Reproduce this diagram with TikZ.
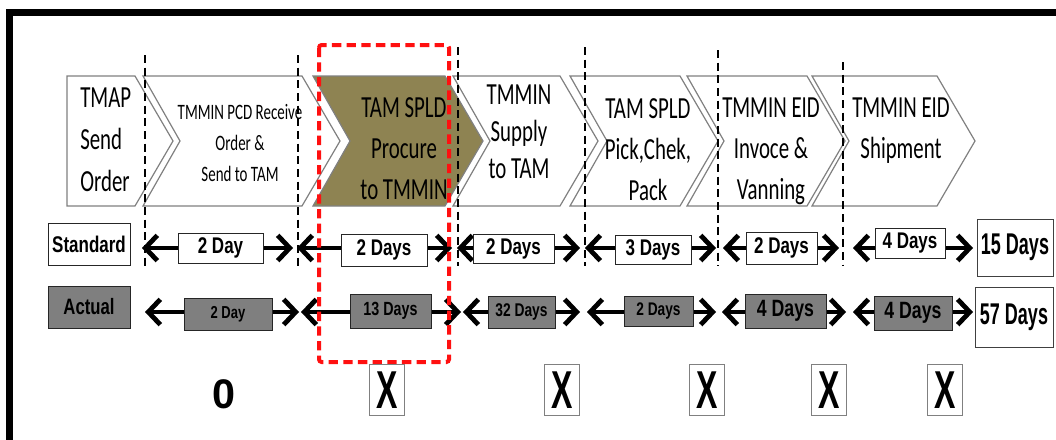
\documentclass[tikz,border=0pt]{standalone}
\usepackage{fontspec}
\usepackage{xcolor}
\usepackage{tikz}
\usetikzlibrary{arrows.meta, positioning}
\newfontfamily\chevfont{Carlito}[FakeStretch=0.68]
\newfontfamily\lblfont{Liberation Sans}[FakeStretch=0.75]
\newfontfamily\narfont{Liberation Sans}[FakeStretch=0.6]
\newfontfamily\markfont{Liberation Sans}
\definecolor{procbrown}{HTML}{8E8352}
\definecolor{actgray}{HTML}{7F7F7F}
\definecolor{edgegray}{HTML}{808080}
\definecolor{markred}{HTML}{FF1010}
\tikzstyle{chev} = [draw=edgegray, line width=0.9pt, fill=white]
\tikzstyle{chevtext} = [inner sep=0pt, anchor=north, align=center, font=\chevfont\fontsize{23}{30.75}\selectfont]
\tikzstyle{lblbox} = [rectangle, draw=black!85, line width=0.7pt, inner sep=0pt, font=\lblfont\bfseries\fontsize{17}{17}\selectfont]
\tikzstyle{daybox} = [lblbox, fill=white]
\tikzstyle{actbox} = [lblbox, fill=actgray, font=\lblfont\bfseries\fontsize{13.5}{13.5}\selectfont]
\tikzstyle{totbox} = [rectangle, draw=black!75, line width=0.7pt, fill=white, inner sep=0pt, font=\narfont\bfseries\fontsize{22.5}{22.5}\selectfont]
\tikzstyle{markbox} = [rectangle, draw=gray, line width=0.8pt, inner sep=0pt, minimum width=26.25pt, minimum height=38.25pt, font=\narfont\bfseries\fontsize{40}{40}\selectfont]
\tikzstyle{darrow} = [line width=3pt, {Straight Barb[length=9pt,width=19pt,line width=3.6pt]}-{Straight Barb[length=9pt,width=19pt,line width=3.6pt]}]
\tikzstyle{stage} = [black, line width=1.6pt, dash pattern=on 6pt off 3.5pt]
\tikzstyle{focus} = [markred, line width=3pt, dash pattern=on 7pt off 4pt, rounded corners=2pt]

\begin{document}
\begin{tikzpicture}[x=0.75pt, y=-0.75pt]
  \useasboundingbox (0,0) rectangle (1056,439);
  \begin{scope}
    \clip (0,0) rectangle (1056,439);
    \draw[line width=5.25pt] (9.5,12) rectangle (1090,480);
  \end{scope}

  % process chevrons
  \draw[chev] (67,76) -- (135,76) -- (173,141) -- (135,206) -- (67,206) -- cycle;
  \foreach \l/\r/\c in {143/302/white, 313/445/procbrown, 453/560/white, 570/680/white, 687/807/white, 812/937/white}
    \draw[chev, fill=\c] (\l,76) -- (\r,76) -- (\r+38,141) -- (\r,206) -- (\l,206) -- (\l+37,141) -- cycle;

  \node (send) [chevtext, anchor=north west, align=left, font=\chevfont\fontsize{23}{31.5}\selectfont] at (80,88) {TMAP\\Send\\Order};
  \node (recv) [chevtext, font=\chevfont\fontsize{16.5}{23.25}\selectfont] at (240,104) {TMMIN PCD Receive\\Order \&\\Send to TAM};
  \node (proc) [chevtext] at (404,97) {TAM SPLD\\Procure\\to TMMIN};
  \node (supp) [chevtext, font=\chevfont\fontsize{23}{27.5}\selectfont] at (519,85) {TMMIN\\Supply\\to TAM};
  \node (pick) [chevtext] at (648,98) {TAM SPLD\\Pick,Chek,\\Pack};
  \node (invc) [chevtext] at (771,98) {TMMIN EID\\Invoce \&\\Vanning};
  \node (ship) [chevtext] at (901,98) {TMMIN EID\\Shipment};

  % stage borders
  \foreach \x/\t in {145/55, 298/55, 458/47, 585/47, 718/50, 843/62}
    \draw[stage] (\x,\t) -- (\x,266);

  % standard and actual lead times
  \foreach \i/\a/\b in {1/142/293, 2/297/452, 3/457/580, 4/585/716, 5/723/839, 6/853/973} {
    \coordinate (sl\i) at (\a,248);
    \coordinate (sr\i) at (\b,248);
    \draw[darrow] (sl\i) -- (sr\i);
  }
  \foreach \i/\a/\b in {1/145/299, 2/301/461, 3/463/580, 4/587/716, 5/722/846, 6/853/973} {
    \coordinate (al\i) at (\a,312);
    \coordinate (ar\i) at (\b,312);
    \draw[darrow] (al\i) -- (ar\i);
  }

  \node (stdlbl) [daybox, minimum width=61.5pt, minimum height=31.5pt] at (89,244) {Standard};
  \node (actlbl) [actbox, font=\lblfont\bfseries\fontsize{16.7}{16.7}\selectfont, minimum width=61.5pt, minimum height=31.5pt] at (89,307) {Actual};

  \node (s1) [daybox, minimum width=63.75pt, minimum height=22.5pt] at (220.5,248) {2 Day};
  \node (s2) [daybox, minimum width=64.5pt, minimum height=24pt] at (384,250) {2 Days};
  \node (s3) [daybox, minimum width=60.75pt, minimum height=21.75pt] at (513.5,248.5) {2 Days};
  \node (s4) [daybox, minimum width=57pt, minimum height=21.75pt] at (653,249.5) {3 Days};
  \node (s5) [daybox, minimum width=53.25pt, minimum height=24pt] at (781.5,248) {2 Days};
  \node (s6) [daybox, minimum width=52.5pt, minimum height=22.5pt] at (910,243) {4 Days};
  \node (stot) [totbox, minimum width=57pt, minimum height=42.75pt] at (1015,247.5) {15 Days};

  \node (a1) [actbox, font=\lblfont\bfseries\fontsize{13}{13}\selectfont, minimum width=66pt, minimum height=24pt] at (228,314) {2 Day};
  \node (a2) [actbox, font=\lblfont\bfseries\fontsize{14.3}{14.3}\selectfont, minimum width=60.75pt, minimum height=25.5pt] at (390.5,311) {13 Days};
  \node (a3) [actbox, font=\lblfont\bfseries\fontsize{13.8}{13.8}\selectfont, minimum width=50.25pt, minimum height=24pt] at (521.5,312) {32 Days};
  \node (a4) [actbox, font=\lblfont\bfseries\fontsize{13.7}{13.7}\selectfont, minimum width=51.75pt, minimum height=22.5pt] at (658.5,311) {2 Days};
  \node (a5) [actbox, font=\lblfont\bfseries\fontsize{17.7}{17.7}\selectfont, minimum width=60.75pt, minimum height=25.5pt] at (785.5,311) {4 Days};
  \node (a6) [actbox, font=\lblfont\bfseries\fontsize{17.7}{17.7}\selectfont, minimum width=58.5pt, minimum height=25.5pt] at (913,313) {4 Days};
  \node (atot) [totbox, minimum width=58.5pt, minimum height=45pt] at (1014,317) {57 Days};

  % highlighted stage
  \draw[focus] (319,45) rectangle (449,362);

  % checks
  \node (ok) [font=\markfont\bfseries\fontsize{31}{31}\selectfont, inner sep=0pt] at (224,394) {0};
  \foreach \i/\x in {1/387, 2/562, 3/707, 4/829, 5/945}
    \node (mark\i) [markbox] at (\x,390) {X};
\end{tikzpicture}
\end{document}
